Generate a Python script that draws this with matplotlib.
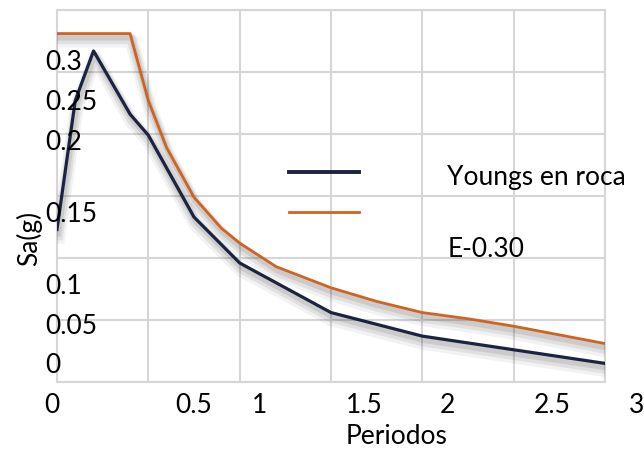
import matplotlib
matplotlib.use('Agg')
import matplotlib.pyplot as plt
import matplotlib.patheffects as pe
from matplotlib.lines import Line2D

plt.rcParams['font.family'] = ['Lato', 'DejaVu Sans']

# datos
periodo_roca = [0, 0.1, 0.2, 0.4, 0.5, 0.75, 1.0, 1.5, 2.0, 2.5, 3.0]
sa_roca = [0.123, 0.227, 0.267, 0.216, 0.199, 0.133, 0.096, 0.056, 0.037, 0.026, 0.015]

periodo_e030 = [0, 0.1, 0.2, 0.3, 0.4, 0.45, 0.5, 0.6, 0.75, 0.9, 1.0, 1.2, 1.5,
                1.75, 2.0, 2.25, 2.5, 2.75, 3.0]
sa_e030 = [0.281, 0.281, 0.281, 0.281, 0.281, 0.254, 0.227, 0.189, 0.149, 0.124,
           0.112, 0.093, 0.076, 0.065, 0.056, 0.051, 0.045, 0.038, 0.031]

# etiquetas (posiciones tal como aparecen en la imagen)
xtick_pos = [-0.027, 0.75, 1.106, 1.68, 2.135, 2.71, 3.175]
xtick_txt = ['0', '0.5', '1', '1.5', '2', '2.5', '3']
ytick_pos = [0.258, 0.2257, 0.1935, 0.1354, 0.0774, 0.0451, 0.0137]
ytick_txt = ['0.3', '0.25', '0.2', '0.15', '0.1', '0.05', '0']

c_roca = '#1c2340'
c_e030 = '#d0631f'
grid_c = '#d6d6d6'

fig = plt.figure(figsize=(6.44, 4.51), dpi=100)
ax = fig.add_axes([0.0885, 0.153, 0.8509, 0.8248])

sombra = [pe.SimpleLineShadow(offset=(1, -5), shadow_color='k', alpha=0.05, linewidth=10),
          pe.SimpleLineShadow(offset=(1, -4), shadow_color='k', alpha=0.07, linewidth=7),
          pe.SimpleLineShadow(offset=(1, -3), shadow_color='k', alpha=0.09, linewidth=4),
          pe.Normal()]

ax.plot(periodo_e030, sa_e030, color=c_e030, lw=2.0, path_effects=sombra,
        solid_joinstyle='round', zorder=3)
ax.plot(periodo_roca, sa_roca, color=c_roca, lw=2.3, path_effects=sombra,
        solid_joinstyle='round', zorder=4)

ax.set_xlim(0, 3)
ax.set_ylim(0, 0.3)
ax.set_xticks([0, 0.5, 1, 1.5, 2, 2.5, 3])
ax.set_yticks([0, 0.05, 0.1, 0.15, 0.2, 0.25, 0.3])
ax.tick_params(length=0, labelbottom=False, labelleft=False)
ax.grid(True, color=grid_c, lw=1.5)
ax.set_axisbelow(True)
for s in ax.spines.values():
    s.set_color(grid_c)
    s.set_linewidth(1.5)

fs = 19
for xp, t in zip(xtick_pos, xtick_txt):
    ax.text(xp, -0.03, t, transform=ax.get_xaxis_transform(), ha='center', va='top',
            fontsize=fs, clip_on=False)
for yp, t in zip(ytick_pos, ytick_txt):
    ax.text(-0.066, yp, t, ha='left', va='center', fontsize=fs, clip_on=False, zorder=5)

fig.text(29 / 644, 1 - 238 / 451, 'Sa(g)', rotation=90, ha='center', va='center', fontsize=fs)
fig.text(397 / 644, 1 - 437 / 451, 'Periodos', ha='center', va='center', fontsize=fs)

# leyenda
ax.add_line(Line2D([0.423, 0.551], [0.5645, 0.5645], transform=ax.transAxes,
                   color=c_roca, lw=2.8, zorder=5))
ax.add_line(Line2D([0.423, 0.551], [0.457, 0.457], transform=ax.transAxes,
                   color=c_e030, lw=2.0, zorder=5))
ax.text(0.712, 0.551, 'Youngs en roca', transform=ax.transAxes, ha='left', va='center',
        fontsize=fs)
ax.text(0.712, 0.355, 'E-0.30', transform=ax.transAxes, ha='left', va='center',
        fontsize=fs)

fig.savefig('out.png', dpi=100)
